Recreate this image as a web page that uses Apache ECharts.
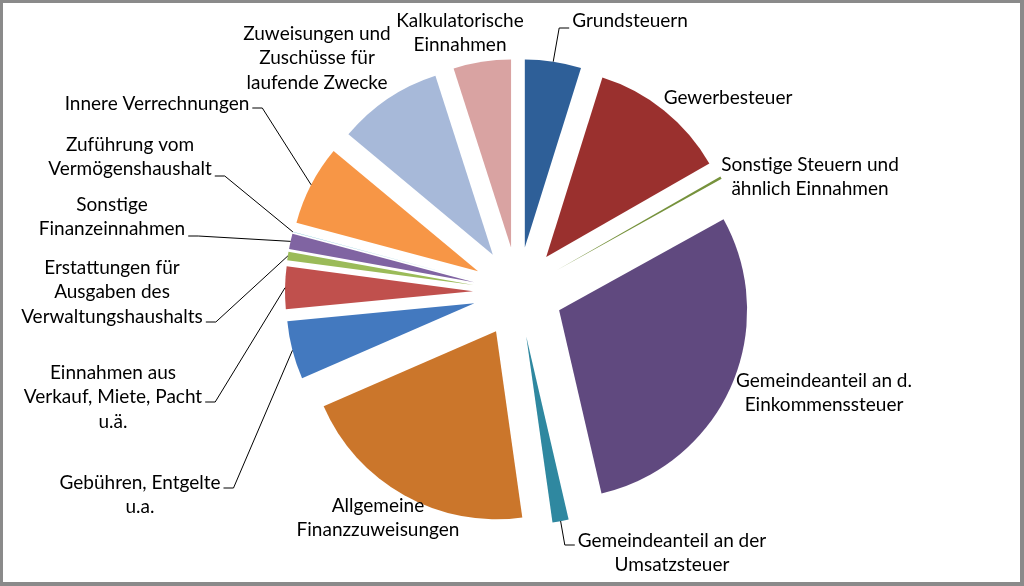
<!DOCTYPE html>
<html><head><meta charset="utf-8">
<script src="https://cdn.jsdelivr.net/npm/echarts@6/dist/echarts.min.js"></script>
<style>
html,body{margin:0;padding:0;background:#fff;}
#chart{position:absolute;left:0;top:0;width:1024px;height:586px;}
#frame{position:absolute;left:0;top:0;width:1024px;height:586px;box-sizing:border-box;border-style:solid;border-color:#8a8a8a;border-width:3px 4px 4px 3px;pointer-events:none;}
</style></head><body>
<div id="chart"></div><div id="frame"></div>
<script>
// ---- data ----
const categories = [
  'Grundsteuern',
  'Gewerbesteuer',
  'Sonstige Steuern und\nähnlich Einnahmen',
  'Gemeindeanteil an d.\nEinkommenssteuer',
  'Gemeindeanteil an der\nUmsatzsteuer',
  'Allgemeine\nFinanzzuweisungen',
  'Gebühren, Entgelte\nu.a.',
  'Einnahmen aus\nVerkauf, Miete, Pacht\nu.ä.',
  'Erstattungen für\nAusgaben des\nVerwaltungshaushalts',
  'Sonstige\nFinanzeinnahmen',
  'Zuführung vom\nVermögenshaushalt',
  'Innere Verrechnungen',
  'Zuweisungen und\nZuschüsse für\nlaufende Zwecke',
  'Kalkulatorische\nEinnahmen'
];
const shares = [4.83, 11.89, 0.22, 29.42, 1.39, 20.69, 5.00, 3.64, 0.72, 1.31, 0.02, 6.89, 9.00, 4.94];

// ---- styles ----
const palette = ['#2E5F98', '#9A302E', '#76923C', '#60497F', '#2F88A0', '#CB762B', '#4379BF',
                 '#C0504D', '#9BBB59', '#8064A2', '#4BACC6', '#F79646', '#A7B9D9', '#D9A3A2'];
const EXPLODE = 45;
const FONT_SIZE = 19, FONT_FAMILY = 'Lato', LINE_H = 24.5;
// label placement: centre of text block, optional leader line side and vertical offset
const labelPlace = [
  {x: 630, y: 21,  line: 'left',  dy: 7},
  {x: 728, y: 98},
  {x: 810, y: 177},
  {x: 824, y: 393},
  {x: 672, y: 553, line: 'left',  dy: -8},
  {x: 378, y: 518},
  {x: 140, y: 495, line: 'right', dy: -7},
  {x: 113, y: 397, line: 'right', dy: 5},
  {x: 112, y: 292, line: 'right', dy: 30},
  {x: 112, y: 217, line: 'right', dy: 19},
  {x: 130, y: 157, line: 'right', dy: 19},
  {x: 157, y: 104, line: 'right', dy: 4},
  {x: 317, y: 58},
  {x: 460, y: 33}
];

const chart = echarts.init(document.getElementById('chart'), null, {renderer: 'canvas'});

chart.setOption({
  animation: false,
  series: [{
    type: 'pie',
    center: [518, 292],
    radius: 188,
    startAngle: 90,
    clockwise: true,
    selectedMode: 'multiple',
    selectedOffset: EXPLODE,
    avoidLabelOverlap: false,
    itemStyle: {borderColor: '#fff', borderWidth: 0},
    select: {itemStyle: {borderColor: '#fff', borderWidth: 0}},
    emphasis: {scale: false},
    label: {show: false},
    labelLine: {show: false},
    data: categories.map((name, i) => ({
      name: name,
      value: shares[i],
      selected: true,
      itemStyle: {color: palette[i]}
    }))
  }]
});

// text measuring
const ctx = document.createElement('canvas').getContext('2d');
ctx.font = FONT_SIZE + 'px ' + FONT_FAMILY;
function textWidth(t) {
  return Math.max.apply(null, t.split('\n').map(s => ctx.measureText(s).width));
}

// mid-angle anchors from the library's own pie layout
function anchorOf(idx) {
  const l = chart.getModel().getSeriesByIndex(0).getData().getItemLayout(idx);
  const m = (l.startAngle + l.endAngle) / 2;
  return [l.cx + (l.r + EXPLODE) * Math.cos(m), l.cy + (l.r + EXPLODE) * Math.sin(m)];
}

const graphics = [];
categories.forEach(function (name, i) {
  const cfg = labelPlace[i];
  graphics.push({
    type: 'text', x: cfg.x, y: cfg.y, silent: true, z: 100,
    style: {
      text: name, fill: '#000', fontSize: FONT_SIZE, fontFamily: FONT_FAMILY,
      lineHeight: LINE_H, align: 'center', verticalAlign: 'middle'
    }
  });
  if (cfg.line) {
    const a = anchorOf(i);
    const w = textWidth(name);
    const ly = cfg.y + cfg.dy;
    let endX, elbowX;
    if (cfg.line === 'right') { endX = cfg.x + w / 2 + 3; elbowX = endX + 10; }
    else { endX = cfg.x - w / 2 - 3; elbowX = endX - 10; }
    graphics.push({
      type: 'polyline', silent: true, z: 99,
      shape: {points: [a, [elbowX, ly], [endX, ly]]},
      style: {stroke: '#000', lineWidth: 1, fill: null}
    });
  }
});
chart.setOption({graphic: graphics});
</script>
</body></html>
